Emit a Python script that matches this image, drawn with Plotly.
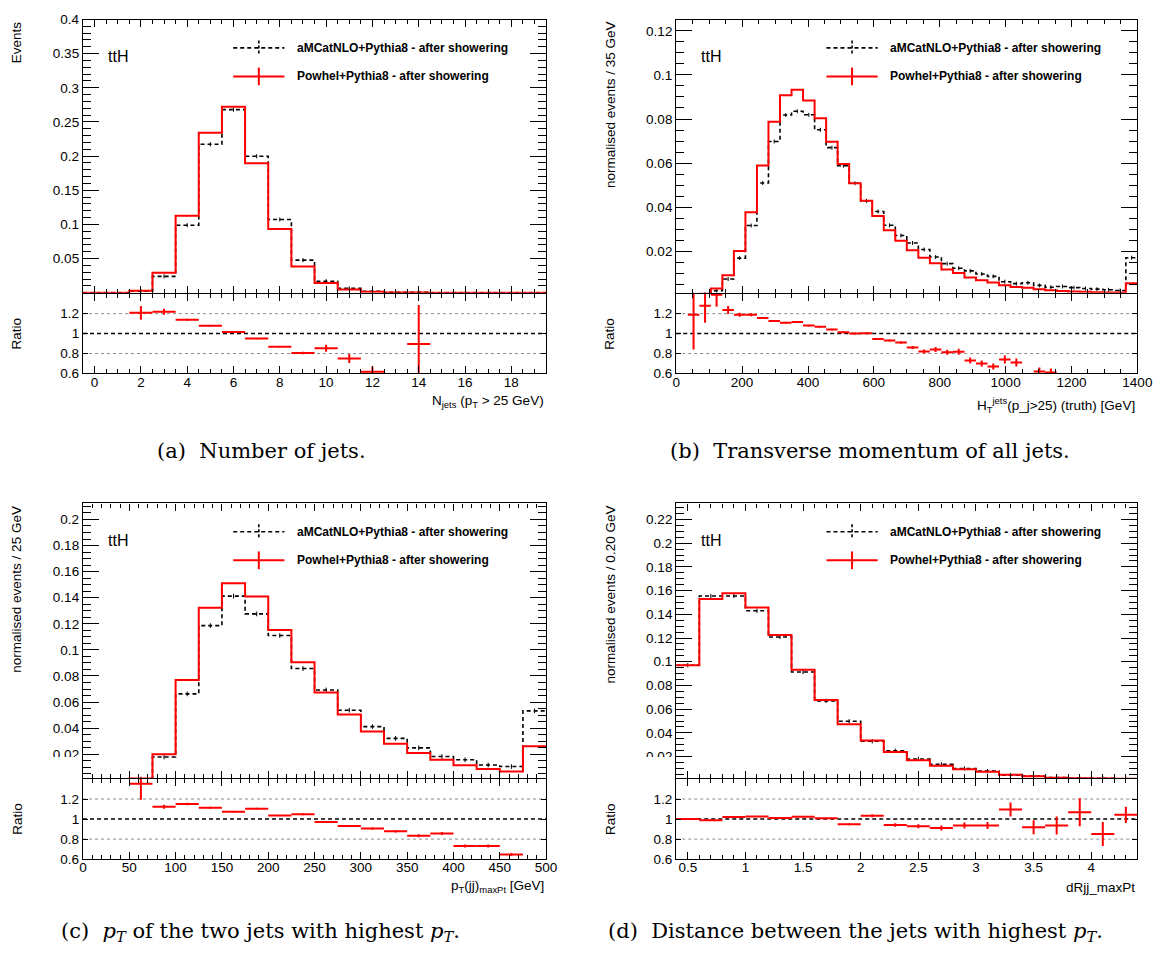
import numpy as np
import plotly.graph_objects as go

# ---------------- data ----------------
# (a) jet multiplicity, unit bins centred on integers
nj_edges = np.arange(-0.5, 20.0, 1.0)
nj_amc = [0, 0, 0.0024, 0.0240, 0.0989, 0.2173, 0.2680, 0.1998, 0.1072, 0.0477,
          0.0169, 0.0064, 0.0023, 0.0007, 0.0006, 0, 0, 0, 0, 0]
nj_pow = [0, 0, 0.0029, 0.0293, 0.1128, 0.2343, 0.2723, 0.1897, 0.0932, 0.0384,
          0.0144, 0.0048, 0.0014, 0.0005, 0.0005, 0, 0, 0, 0, 0]
nj_rx = [2, 3, 4, 5, 6, 7, 8, 9, 10, 11, 12, 14]
nj_r = [1.208, 1.22, 1.14, 1.078, 1.016, 0.95, 0.868, 0.806, 0.853, 0.75, 0.616, 0.896]
nj_rerr = [0.07, 0.03, 0.01, 0.006, 0.006, 0.006, 0.008, 0.012, 0.035, 0.045, 0.055, 0.39]

# (b) scalar sum of jet pT, 35 GeV bins (last bin holds overflow)
ht_edges = np.arange(0, 1401, 35)
ht_amc = [0, 0.0002, 0.0005, 0.0020, 0.0073, 0.0168, 0.0316, 0.0509, 0.0698, 0.0818,
          0.0835, 0.0819, 0.0751, 0.0670, 0.0588, 0.0508, 0.0428, 0.0380, 0.0317, 0.0271,
          0.0237, 0.0207, 0.0173, 0.0143, 0.0122, 0.0110, 0.0096, 0.0085, 0.0061, 0.0052,
          0.0056, 0.0044, 0.0036, 0.0039, 0.0034, 0.0030, 0.0027, 0.0024, 0.0021, 0.0170]
ht_pow = [0, 0.0002, 0.0006, 0.0030, 0.0090, 0.0200, 0.0376, 0.0589, 0.0787, 0.0908,
          0.0933, 0.0884, 0.0803, 0.0697, 0.0596, 0.0508, 0.0429, 0.0359, 0.0295, 0.0247,
          0.0204, 0.0170, 0.0145, 0.0116, 0.0100, 0.0080, 0.0067, 0.0057, 0.0045, 0.0037,
          0.0033, 0.0027, 0.0022, 0.0019, 0.0016, 0.0015, 0.0013, 0.0012, 0.0012, 0.0054]
ht_rx = [52.5, 87.5, 122.5, 157.5, 192.5, 227.5, 262.5, 297.5, 332.5, 367.5, 402.5,
         437.5, 472.5, 507.5, 542.5, 577.5, 612.5, 647.5, 682.5, 717.5, 752.5, 787.5,
         822.5, 857.5, 892.5, 927.5, 962.5, 997.5, 1032.5, 1102.5, 1137.5]
ht_r = [1.19, 1.28, 1.39, 1.236, 1.19, 1.19, 1.157, 1.127, 1.11, 1.117, 1.08, 1.069,
        1.04, 1.013, 1.0, 1.003, 0.945, 0.93, 0.91, 0.86, 0.82, 0.84, 0.813, 0.817,
        0.73, 0.70, 0.67, 0.74, 0.71, 0.62, 0.61]
ht_rerr = [0.35, 0.17, 0.12, 0.04, 0.02, 0.015, 0.01, 0.01, 0.008, 0.008, 0.008, 0.008,
           0.008, 0.008, 0.008, 0.01, 0.01, 0.01, 0.012, 0.015, 0.02, 0.025, 0.025, 0.03,
           0.03, 0.03, 0.03, 0.04, 0.04, 0.04, 0.04]

# (c) pT of the leading jet pair, 25 GeV bins (last bin holds overflow)
pt_edges = np.arange(0, 501, 25)
pt_amc = [0, 0, 0.00104, 0.0179, 0.0663, 0.1186, 0.1412, 0.1276, 0.1110, 0.0857,
          0.0693, 0.0538, 0.0412, 0.0322, 0.0249, 0.0183, 0.0158, 0.0118, 0.0106, 0.0533]
pt_pow = [0, 0, 0.0014, 0.0201, 0.0769, 0.1324, 0.1510, 0.1410, 0.1153, 0.0905,
          0.0673, 0.0505, 0.0374, 0.0281, 0.0209, 0.0158, 0.0116, 0.0088, 0.0068, 0.0261]
pt_rx = [62.5, 87.5, 112.5, 137.5, 162.5, 187.5, 212.5, 237.5, 262.5, 287.5, 312.5,
         337.5, 362.5, 387.5, 412.5, 437.5, 462.5]
pt_r = [1.352, 1.124, 1.15, 1.114, 1.072, 1.104, 1.036, 1.049, 0.971, 0.932, 0.905,
        0.878, 0.833, 0.855, 0.731, 0.731, 0.646]
pt_rerr = [0.16, 0.02, 0.012, 0.01, 0.008, 0.008, 0.008, 0.01, 0.01, 0.01, 0.012,
           0.012, 0.015, 0.015, 0.015, 0.015, 0.015]

# (d) Delta R of the leading jet pair, 0.2 bins
dr_edges = np.round(np.arange(0.4, 4.41, 0.2), 2)
dr_amc = [0.0971, 0.1555, 0.1555, 0.1430, 0.1209, 0.0913, 0.0670, 0.0498, 0.0329, 0.0249,
          0.0180, 0.0134, 0.0100, 0.0077, 0.0043, 0.0036, 0.0024, 0.0016, 0.00165, 0.00125]
dr_pow = [0.0971, 0.1530, 0.1577, 0.1458, 0.1225, 0.0932, 0.0678, 0.0473, 0.0335, 0.0238,
          0.0169, 0.0122, 0.0094, 0.0072, 0.0047, 0.0033, 0.0022, 0.0017, 0.0014, 0.0013]
dr_rx = [0.5, 0.7, 0.9, 1.1, 1.3, 1.5, 1.7, 1.9, 2.1, 2.3, 2.5, 2.7, 2.9, 3.1, 3.3,
         3.5, 3.7, 3.9, 4.1, 4.3]
dr_r = [1.0, 0.987, 1.02, 1.026, 1.01, 1.023, 1.007, 0.948, 1.033, 0.941, 0.928, 0.912,
        0.935, 0.935, 1.095, 0.918, 0.935, 1.068, 0.85, 1.042]
dr_rerr = [0.005, 0.005, 0.005, 0.005, 0.005, 0.006, 0.008, 0.01, 0.015, 0.018, 0.02,
           0.025, 0.03, 0.035, 0.07, 0.07, 0.09, 0.14, 0.12, 0.08]

LEG_AMC = "aMCatNLO+Pythia8 - after showering"
LEG_POW = "Powhel+Pythia8 - after showering"

# ---------------- geometry helpers ----------------
W, H = 1175, 957
def fx(x):
    return x / W
def fy(y):
    return 1 - y / H

COLS = [(80.3, 551.0), (683.3, 1152.0)]
ROWS = [dict(main=(12.7, 290.3), ratio=(291.3, 372.3), cap=451),
        dict(main=(504.3, 783.3), ratio=(784.3, 865.7), cap=940)]

SANS = "Liberation Sans, Arial, Helvetica, sans-serif"
TICKFONT = dict(family=SANS, size=13.5, color="black")
RED = "#ff0000"

panels = [
    dict(edges=nj_edges, amc=nj_amc, pow=nj_pow, rx=nj_rx, r=nj_r, rerr=nj_rerr,
         half=0.5, yrange=[0, 0.4], yticks=[0.05, 0.1, 0.15, 0.2, 0.25, 0.3, 0.35, 0.4],
         yminor=0.01, xrange=[-0.5, 19.5], dtick=2, tick0=0, xminor=0.5, eb=0.003,
         ytitle="Events", xtitle="N<sub>jets</sub> (p<sub>T</sub> > 25 GeV)", xt=401,
         caption="(a)  Number of jets.", capx=262, col=0, row=0),
    dict(edges=ht_edges, amc=ht_amc, pow=ht_pow, rx=ht_rx, r=ht_r, rerr=ht_rerr,
         half=17.5, yrange=[0.00107, 0.1252], yticks=[0.02, 0.04, 0.06, 0.08, 0.1, 0.12],
         yminor=0.005, xrange=[0, 1400], dtick=200, tick0=0, xminor=50, eb=0.0009,
         ytitle="normalised events / 35 GeV",
         xtitle="H<sub>T</sub><sup>jets</sup>(p_j>25) (truth) [GeV]", xt=404,
         caption="(b)  Transverse momentum of all jets.", capx=880, col=1, row=0),
    dict(edges=pt_edges, amc=pt_amc, pow=pt_pow, rx=pt_rx, r=pt_r, rerr=pt_rerr,
         half=12.5, yrange=[0.0018, 0.2123],
         yticks=[0.02, 0.04, 0.06, 0.08, 0.1, 0.12, 0.14, 0.16, 0.18, 0.2],
         yminor=0.005, xrange=[0, 500], dtick=50, tick0=0, xminor=10, eb=0.0018,
         ytitle="normalised events / 25 GeV",
         xtitle="p<sub>T</sub>(jj)<sub>maxPt</sub> [GeV]", xt=893,
         caption="(c)  <i>p</i><sub><i>T</i></sub> of the two jets with highest <i>p</i><sub><i>T</i></sub>.",
         capx=261, col=0, row=1),
    dict(edges=dr_edges, amc=dr_amc, pow=dr_pow, rx=dr_rx, r=dr_r, rerr=dr_rerr,
         half=0.1, yrange=[0.0019, 0.2336],
         yticks=[0.02, 0.04, 0.06, 0.08, 0.1, 0.12, 0.14, 0.16, 0.18, 0.2, 0.22],
         yminor=0.005, xrange=[0.4, 4.4], dtick=0.5, tick0=0, xminor=0.1, eb=0.0018,
         ytitle="normalised events / 0.20 GeV", xtitle="dRjj_maxPt", xt=895,
         caption="(d)  Distance between the jets with highest <i>p</i><sub><i>T</i></sub>.",
         capx=866, col=1, row=1),
]

fig = go.Figure()
layout = dict(width=W, height=H, autosize=False, margin=dict(l=0, r=0, t=0, b=0),
              paper_bgcolor="white", plot_bgcolor="white", showlegend=False)
shapes, annots = [], []

def step_xy(edges, vals):
    xs = list(edges)
    ys = list(vals) + [vals[-1]]
    return xs, ys

for i, p in enumerate(panels):
    mi, ri = 2 * i + 1, 2 * i + 2
    mx, my = ("x", "y") if mi == 1 else (f"x{mi}", f"y{mi}")
    rxa, rya = f"x{ri}", f"y{ri}"
    c0, c1 = COLS[p["col"]]
    row = ROWS[p["row"]]
    xdom = [fx(c0), fx(c1)]

    frame = dict(showline=True, linecolor="black", linewidth=1.3, mirror="ticks",
                 showgrid=False, zeroline=False, tickcolor="black", tickwidth=1)

    # main pad axes
    layout["xaxis" if mi == 1 else f"xaxis{mi}"] = dict(
        domain=xdom, anchor=my, range=p["xrange"], dtick=p["dtick"], tick0=p["tick0"],
        ticks="inside", ticklen=7, showticklabels=False,
        minor=dict(dtick=p["xminor"], tick0=p["tick0"], ticks="inside", ticklen=4,
                   tickcolor="black", tickwidth=1), **frame)
    layout["yaxis" if mi == 1 else f"yaxis{mi}"] = dict(
        domain=[fy(row["main"][1]), fy(row["main"][0])], anchor=mx, range=p["yrange"],
        tickmode="array", tickvals=p["yticks"], ticktext=[f"{v:g}" for v in p["yticks"]],
        ticks="inside", ticklen=16, tickfont=TICKFONT,
        minor=dict(dtick=p["yminor"], tick0=0, ticks="inside", ticklen=8,
                   tickcolor="black", tickwidth=1), **frame)
    # ratio pad axes
    layout[f"xaxis{ri}"] = dict(
        domain=xdom, anchor=rya, range=p["xrange"], dtick=p["dtick"], tick0=p["tick0"],
        ticks="inside", ticklen=7, tickfont=TICKFONT, ticklabelstandoff=-4,
        minor=dict(dtick=p["xminor"], tick0=p["tick0"], ticks="inside", ticklen=4,
                   tickcolor="black", tickwidth=1), **frame)
    layout[f"yaxis{ri}"] = dict(
        domain=[fy(row["ratio"][1]), fy(row["ratio"][0])], anchor=rxa, range=[0.6, 1.4],
        tickmode="array", tickvals=[0.6, 0.8, 1.0, 1.2], ticktext=["0.6", "0.8", "1", "1.2"],
        ticks="inside", ticklen=5, tickfont=TICKFONT, **frame)

    # histograms
    xs, ys = step_xy(p["edges"], p["amc"])
    fig.add_trace(go.Scatter(x=xs, y=ys, mode="lines", line_shape="hv",
                             line=dict(color="black", width=1.6, dash="4px,3px"),
                             xaxis=mx, yaxis=my, hoverinfo="skip"))
    centres = [(a + b) / 2 for a, b in zip(p["edges"][:-1], p["edges"][1:])]
    cx = [c for c, v in zip(centres, p["amc"]) if v > 0]
    cy = [v for v in p["amc"] if v > 0]
    fig.add_trace(go.Scatter(x=cx, y=cy, mode="markers", marker=dict(size=1, color="black"),
                             error_y=dict(type="constant", value=p["eb"], color="black",
                                          thickness=1, width=0),
                             xaxis=mx, yaxis=my, hoverinfo="skip"))
    xs, ys = step_xy(p["edges"], p["pow"])
    fig.add_trace(go.Scatter(x=xs, y=ys, mode="lines", line_shape="hv",
                             line=dict(color=RED, width=2),
                             xaxis=mx, yaxis=my, hoverinfo="skip"))

    # ratio reference lines
    for yv, col, dash, w in [(1.2, "#8a8a8a", "dot", 1), (0.8, "#8a8a8a", "dot", 1),
                             (1.0, "black", "4px,3px", 1.5)]:
        shapes.append(dict(type="line", xref=f"{rxa} domain", yref=rya, x0=0, x1=1,
                           y0=yv, y1=yv, line=dict(color=col, width=w, dash=dash),
                           layer="below"))
    # ratio points
    fig.add_trace(go.Scatter(x=p["rx"], y=p["r"], mode="markers",
                             marker=dict(size=1, color=RED),
                             error_x=dict(type="constant", value=p["half"], color=RED,
                                          thickness=2, width=0),
                             error_y=dict(type="data", array=p["rerr"], color=RED,
                                          thickness=2, width=0),
                             xaxis=rxa, yaxis=rya, hoverinfo="skip"))

    # legend entries and process label
    off = c0 - COLS[0][0]
    top = row["main"][0] - ROWS[0]["main"][0]
    ly1, ly2 = 41.5 + top, 70.5 + top
    shapes.append(dict(type="line", xref="paper", yref="paper", x0=fx(233 + off),
                       x1=fx(285 + off), y0=fy(ly1), y1=fy(ly1), layer="above",
                       line=dict(color="black", width=1.6, dash="4px,3px")))
    shapes.append(dict(type="line", xref="paper", yref="paper", x0=fx(259 + off),
                       x1=fx(259 + off), y0=fy(ly1 - 7.5), y1=fy(ly1 + 7.5), layer="above",
                       line=dict(color="black", width=1.6, dash="3px,2px")))
    shapes.append(dict(type="line", xref="paper", yref="paper", x0=fx(233 + off),
                       x1=fx(285 + off), y0=fy(ly2), y1=fy(ly2), layer="above",
                       line=dict(color=RED, width=2)))
    shapes.append(dict(type="line", xref="paper", yref="paper", x0=fx(259 + off),
                       x1=fx(259 + off), y0=fy(ly2 - 9), y1=fy(ly2 + 9), layer="above",
                       line=dict(color=RED, width=2)))
    for ly, txt in [(ly1, LEG_AMC), (ly2, LEG_POW)]:
        annots.append(dict(text=f"<b>{txt}</b>", xref="paper", yref="paper",
                           x=fx(296 + off), y=fy(ly), xanchor="left", yanchor="middle",
                           showarrow=False, font=dict(family=SANS, size=12, color="black")))
    annots.append(dict(text="ttH", xref="paper", yref="paper", x=fx(103.5 + off),
                       y=fy(50.7 + top), xanchor="left", yanchor="middle", showarrow=False,
                       font=dict(family=SANS, size=16, color="black")))

    # axis titles
    annots.append(dict(text=p["ytitle"], xref="paper", yref="paper", x=fx(13 + off),
                       y=fy(row["main"][0]), xanchor="center", yanchor="top", textangle=-90,
                       showarrow=False, font=dict(family=SANS, size=13.5, color="black")))
    annots.append(dict(text="Ratio", xref="paper", yref="paper", x=fx(13 + off),
                       y=fy((row["ratio"][0] + row["ratio"][1]) / 2), xanchor="center",
                       yanchor="middle", textangle=-90, showarrow=False,
                       font=dict(family=SANS, size=13.5, color="black")))
    annots.append(dict(text=p["xtitle"], xref="paper", yref="paper", x=fx(c1),
                       y=fy(p["xt"]), xanchor="right", yanchor="middle", showarrow=False,
                       font=dict(family=SANS, size=13.5, color="black")))
    # sub-figure caption
    annots.append(dict(text=p["caption"], xref="paper", yref="paper",
                       x=fx(p["capx"]), y=fy(row["cap"]), xanchor="center",
                       yanchor="middle", showarrow=False,
                       font=dict(family="DejaVu Serif, serif", size=21, color="black")))

    # the lower pad hides the bottom of the upper pad's left margin
    if p["row"] == 1:
        shapes.append(dict(type="rect", xref="paper", yref="paper", x0=fx(off + 0),
                           x1=fx(c0 - 1.5), y0=fy(783.6), y1=fy(762), layer="above",
                           fillcolor="white", line=dict(width=0)))

layout["shapes"] = shapes
layout["annotations"] = annots
fig.update_layout(**layout)
fig.write_html("out.html")
